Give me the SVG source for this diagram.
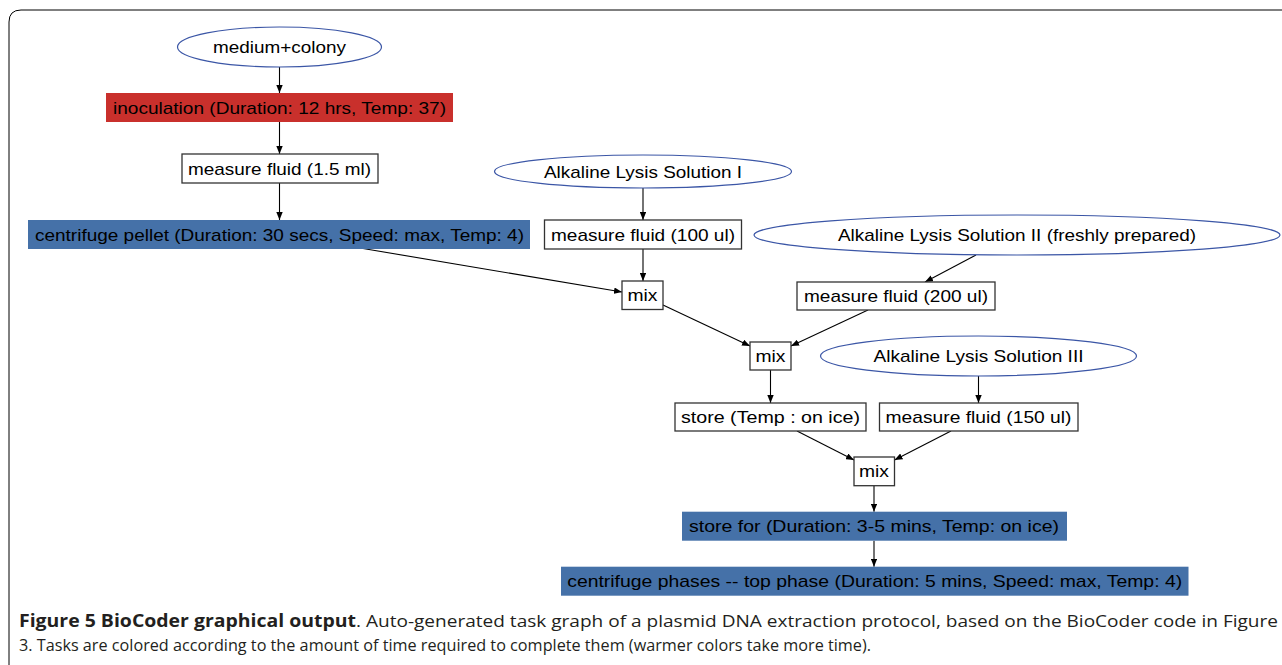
<svg xmlns="http://www.w3.org/2000/svg" width="1282" height="665" viewBox="0 0 1282 665">
<style>
.t{font-family:"Liberation Sans",Arial,sans-serif;font-size:17px;fill:#000;text-anchor:middle}
.el{fill:#fff;stroke:#3b56a6;stroke-width:1.2}
.bx{fill:#fff;stroke:#333;stroke-width:1.3}
.red{fill:#c9302c}
.blue{fill:#4571a8}
.e{stroke:#000;stroke-width:1.1;fill:none;marker-end:url(#ah)}
.cap{font-family:"Open Sans","Liberation Sans",sans-serif;font-size:17px;fill:#231f20}
</style>
<defs>
<marker id="ah" viewBox="0 0 10 8" refX="10" refY="4" markerWidth="8" markerHeight="6.5" markerUnits="userSpaceOnUse" orient="auto">
<path d="M0,0 L10,4 L0,8 z" fill="#000"/>
</marker>
</defs>
<rect width="1282" height="665" fill="#fff"/>
<path d="M9,680 L9,22 Q9,10 21,10 L1300,10" fill="none" stroke="#000" stroke-width="1"/>
<g id="connectors">
<line class="e" x1="279.5" y1="67" x2="279.5" y2="93"/>
<line class="e" x1="279.5" y1="122" x2="279.5" y2="154"/>
<line class="e" x1="279.5" y1="183" x2="279.5" y2="220"/>
<line class="e" x1="363" y1="248.5" x2="622" y2="292"/>
<line class="e" x1="643" y1="188" x2="643" y2="220"/>
<line class="e" x1="643" y1="249" x2="643" y2="281"/>
<line class="e" x1="976" y1="255" x2="925" y2="282"/>
<line class="e" x1="663" y1="305" x2="750" y2="346"/>
<line class="e" x1="868" y1="310" x2="791" y2="346"/>
<line class="e" x1="770.5" y1="370" x2="770.5" y2="403"/>
<line class="e" x1="978.5" y1="376" x2="978.5" y2="403"/>
<line class="e" x1="797" y1="431" x2="854" y2="460"/>
<line class="e" x1="951" y1="431" x2="894.5" y2="460"/>
<line class="e" x1="874" y1="485.7" x2="874" y2="511.7"/>
<line class="e" x1="874" y1="540.7" x2="874" y2="566.7"/>
</g>
<g id="medium_colony"><ellipse class="el" cx="279.5" cy="47" rx="102" ry="20"/><text class="t" x="279.5" y="53" textLength="133" lengthAdjust="spacingAndGlyphs">medium+colony</text></g>
<g id="inoculation"><rect class="red" x="106" y="93" width="347" height="29"/><text class="t" x="279.5" y="113.5" textLength="333" lengthAdjust="spacingAndGlyphs">inoculation (Duration: 12 hrs, Temp: 37)</text></g>
<g id="measure_15"><rect class="bx" x="182" y="154" width="196" height="29"/><text class="t" x="279.5" y="174.5" textLength="183" lengthAdjust="spacingAndGlyphs">measure fluid (1.5 ml)</text></g>
<g id="centrifuge_pellet"><rect class="blue" x="28" y="220" width="502" height="29"/><text class="t" x="279.5" y="240.5" textLength="489" lengthAdjust="spacingAndGlyphs">centrifuge pellet (Duration: 30 secs, Speed: max, Temp: 4)</text></g>
<g id="als1"><ellipse class="el" cx="643" cy="171.5" rx="148.5" ry="16.5"/><text class="t" x="643" y="177.5" textLength="198" lengthAdjust="spacingAndGlyphs">Alkaline Lysis Solution I</text></g>
<g id="measure_100"><rect class="bx" x="544.5" y="220" width="197" height="29"/><text class="t" x="643" y="240.5" textLength="184" lengthAdjust="spacingAndGlyphs">measure fluid (100 ul)</text></g>
<g id="als2"><ellipse class="el" cx="1017" cy="235" rx="263" ry="20"/><text class="t" x="1017" y="241" textLength="358" lengthAdjust="spacingAndGlyphs">Alkaline Lysis Solution II (freshly prepared)</text></g>
<g id="mix1"><rect class="bx" x="622" y="281" width="41" height="28.5"/><text class="t" x="642.5" y="301" textLength="30" lengthAdjust="spacingAndGlyphs">mix</text></g>
<g id="measure_200"><rect class="bx" x="797" y="282" width="198" height="28"/><text class="t" x="896" y="302" textLength="184" lengthAdjust="spacingAndGlyphs">measure fluid (200 ul)</text></g>
<g id="mix2"><rect class="bx" x="750" y="342" width="41" height="28"/><text class="t" x="770.5" y="362" textLength="30" lengthAdjust="spacingAndGlyphs">mix</text></g>
<g id="als3"><ellipse class="el" cx="978.5" cy="356" rx="158" ry="20"/><text class="t" x="978.5" y="362" textLength="210" lengthAdjust="spacingAndGlyphs">Alkaline Lysis Solution III</text></g>
<g id="store_ice"><rect class="bx" x="675" y="403" width="191" height="28"/><text class="t" x="770.5" y="423" textLength="179" lengthAdjust="spacingAndGlyphs">store (Temp : on ice)</text></g>
<g id="measure_150"><rect class="bx" x="879.5" y="403" width="198.5" height="28"/><text class="t" x="978.5" y="423" textLength="186" lengthAdjust="spacingAndGlyphs">measure fluid (150 ul)</text></g>
<g id="mix3"><rect class="bx" x="854" y="457" width="40.5" height="28.7"/><text class="t" x="874" y="477" textLength="30" lengthAdjust="spacingAndGlyphs">mix</text></g>
<g id="store_for"><rect class="blue" x="682" y="511.7" width="385" height="29"/><text class="t" x="874" y="532" textLength="370" lengthAdjust="spacingAndGlyphs">store for (Duration: 3-5 mins, Temp: on ice)</text></g>
<g id="centrifuge_phases"><rect class="blue" x="561" y="566.7" width="627.5" height="29"/><text class="t" x="874.7" y="587" textLength="615" lengthAdjust="spacingAndGlyphs">centrifuge phases -- top phase (Duration: 5 mins, Speed: max, Temp: 4)</text></g>
<g id="caption">
<text class="cap" x="19" y="627" font-weight="bold" textLength="337" lengthAdjust="spacingAndGlyphs">Figure 5 BioCoder graphical output</text>
<text class="cap" x="356" y="627" textLength="922" lengthAdjust="spacingAndGlyphs">. Auto-generated task graph of a plasmid DNA extraction protocol, based on the BioCoder code in Figure</text>
<text class="cap" x="19" y="651" textLength="852" lengthAdjust="spacingAndGlyphs">3. Tasks are colored according to the amount of time required to complete them (warmer colors take more time).</text>
</g>
</svg>
